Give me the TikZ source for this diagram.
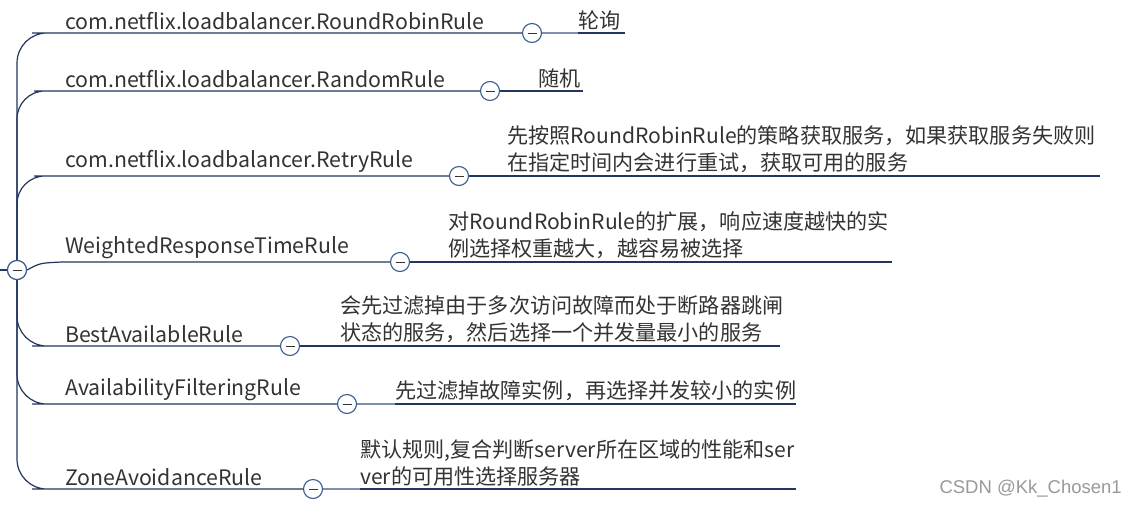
\documentclass[tikz,border=0pt]{standalone}
\usepackage{fontspec}
\setmainfont{Noto Sans CJK SC}
\newfontfamily\wmfont{Liberation Sans}
\definecolor{ln}{HTML}{22365E}
\definecolor{lnl}{HTML}{7F90AE}
\definecolor{cir}{HTML}{3B5B8E}
\definecolor{tx}{HTML}{333333}
\begin{document}
\begin{tikzpicture}[x=1pt,y=-1pt,
  conn/.style={draw=ln, line width=1.2pt},
  connl/.style={draw=lnl, line width=1.2pt},
  tog/.style={circle, draw=cir, fill=white, line width=1.1pt, minimum size=19pt, inner sep=0pt,
    path picture={\draw[tx, line width=1pt] ([xshift=-4.5pt]path picture bounding box.center) -- ([xshift=4.5pt]path picture bounding box.center);}},
  lbl/.style={anchor=south west, inner xsep=0pt, inner ysep=3pt, text=tx, font=\fontsize{21.3}{27}\selectfont},
  desc/.style={anchor=south west, inner xsep=0pt, inner ysep=3pt, text=tx, align=left, font=\fontsize{21.1}{27}\selectfont},
  wm/.style={anchor=base east, inner sep=0pt, text=black!40, font=\wmfont\fontsize{18.5}{20}\selectfont}
]
\useasboundingbox (0,0) rectangle (1137,504);
\fill[white] (0,0) rectangle (1137,504);

% coordinates for line starts
\coordinate (s1) at (62,33);
\coordinate (s2) at (62,91);
\coordinate (s3) at (62,176);
\coordinate (s4) at (62,262);
\coordinate (s5) at (62,346);
\coordinate (s6) at (62,404);
\coordinate (s7) at (62,489);
\coordinate (stub) at (0,270);

% root
\node[tog] (root) at (17,270) {};

% labels
\node[lbl] (n1) at (65,33) {com.netflix.loadbalancer.RoundRobinRule};
\node[lbl] (n2) at (65,91) {com.netflix.loadbalancer.RandomRule};
\node[lbl] (n3) at (65,176) {com.netflix.loadbalancer.RetryRule};
\node[lbl] (n4) at (65,262) {WeightedResponseTimeRule};
\node[lbl] (n5) at (65,346) {BestAvailableRule};
\node[lbl] (n6) at (65,404) {AvailabilityFilteringRule};
\node[lbl] (n7) at (65,489) {ZoneAvoidanceRule};

% descriptions
\node[desc] (d1) at (578,33) {轮询};
\node[desc] (d2) at (538,91) {随机};
\node[desc] (d3) at (507,176) {先按照RoundRobinRule的策略获取服务，如果获取服务失败则\\在指定时间内会进行重试，获取可用的服务};
\node[desc] (d4) at (448,262) {对RoundRobinRule的扩展，响应速度越快的实\\例选择权重越大，越容易被选择};
\node[desc] (d5) at (340,346) {会先过滤掉由于多次访问故障而处于断路器跳闸\\状态的服务，然后选择一个并发量最小的服务};
\node[desc] (d6) at (395,404) {先过滤掉故障实例，再选择并发较小的实例};
\node[desc] (d7) at (360,489) {默认规则,复合判断server所在区域的性能和ser\\ver的可用性选择服务器};

% line ends
\coordinate (e1) at (625,33);
\coordinate (e2) at (583,91);
\coordinate (e3) at (1100,176);
\coordinate (e4) at (892,262);
\coordinate (e5) at (780,346);
\coordinate (e6) at (796,404);
\coordinate (e7) at (796,489);

% toggles positions
\coordinate (c1) at (532,33);
\coordinate (c2) at (490,91);
\coordinate (c3) at (459,176);
\coordinate (c4) at (400,262);
\coordinate (c5) at (290,346);
\coordinate (c6) at (347,404);
\coordinate (c7) at (313,489);

% connectors from root
\draw[conn] (stub) -- (root.west);
\draw[conn, rounded corners=30pt] (root.north) |- (s1) -- (c1);
\draw[conn, rounded corners=28pt] (root.north) |- (s2) -- (c2);
\draw[conn, rounded corners=28pt] (root.north) |- (s3) -- (c3);
\draw[conn] (root.east) .. controls (40,263) .. (s4) -- (c4);
\draw[conn, rounded corners=30pt] (root.south) |- (s5) -- (c5);
\draw[conn, rounded corners=30pt] (root.south) |- (s6) -- (c6);
\draw[conn, rounded corners=30pt] (root.south) |- (s7) -- (c7);

% connectors to descriptions
\draw[connl] (c1) -- (d1.south west);
\draw[conn] (d1.south west) -- (e1);
\draw[conn] (c2) -- (d2.south west) -- (e2);
\draw[conn] (c3) -- (d3.south west) -- (e3);
\draw[conn] (c4) -- (d4.south west) -- (e4);
\draw[conn] (c5) -- (d5.south west) -- (e5);
\draw[connl] (c6) -- (d6.south west);
\draw[conn] (d6.south west) -- (e6);
\draw[connl] (c7) -- (d7.south west);
\draw[conn] (d7.south west) -- (e7);

% toggle circles on top
\node[tog] (t1) at (c1) {};
\node[tog] (t2) at (c2) {};
\node[tog] (t3) at (c3) {};
\node[tog] (t4) at (c4) {};
\node[tog] (t5) at (c5) {};
\node[tog] (t6) at (c6) {};
\node[tog] (t7) at (c7) {};
\node[tog] (root2) at (root) {};

\node[wm] (wmark) at (1122,493) {CSDN @Kk\_Chosen1};
\end{tikzpicture}
\end{document}
